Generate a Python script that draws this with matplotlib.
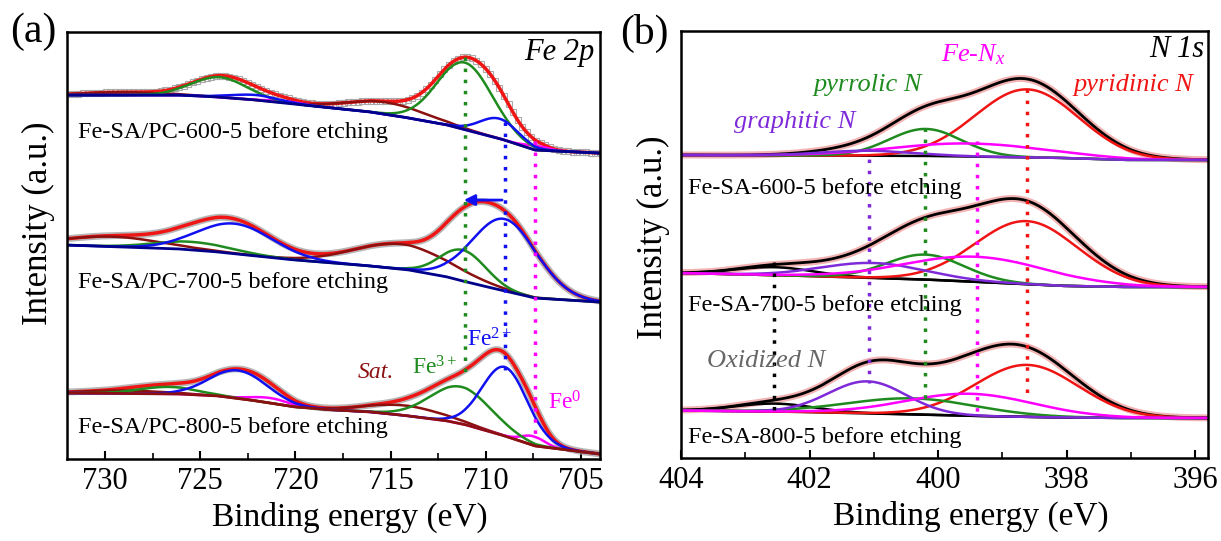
import numpy as np
import matplotlib
matplotlib.use('Agg')
import matplotlib.pyplot as plt
from matplotlib.ticker import MultipleLocator

plt.rcParams['font.family'] = ['Liberation Serif', 'DejaVu Serif']
plt.rcParams['mathtext.fontset'] = 'custom'
plt.rcParams['mathtext.rm'] = 'Liberation Serif'
plt.rcParams['mathtext.it'] = 'Liberation Serif:italic'

# ---- panel (a): Fe 2p ----
# levels are read as image rows (y axis is inverted, smaller = higher up)
fe_samples = ['Fe-SA/PC-600-5 before etching',
              'Fe-SA/PC-700-5 before etching',
              'Fe-SA/PC-800-5 before etching']
fe_label_rows = [132, 282, 428]
fe_bg_be = [704, 707.4, 709, 711, 712, 714, 716, 718, 720, 722, 724, 726, 732]
fe_bg_600 = [153, 150, 140, 130, 125, 118, 112, 108, 104, 100, 97, 95, 95]
fe_bg_700 = [302, 298, 291, 282, 277, 270, 266, 263, 260, 256, 252, 249, 245]
fe_bg_800 = [454, 446, 436, 425, 421, 416, 412, 410, 407, 401, 396, 394, 393]

# components Fe3+, Fe2+, Fe0, satellite
# row: 2p3/2 centre, height, sigma, 2p1/2 centre, height, sigma
fe_comp_600 = [[711.1, 67, 1.45, 724.0, 20, 1.45],
               [709.3, 20, 1.0, 722.1, 5, 1.2],
               [707.3, 4, 0.6, 720.5, 2, 0.8],
               [715.2, 12, 2.0, 729.0, 3, 2.0]]
fe_comp_700 = [[711.2, 31, 1.2, 725.4, 8, 2.0],
               [709.0, 72, 1.7, 723.2, 30, 2.0],
               [707.3, 0, 0.6, 720.5, 0, 1.0],
               [714.4, 25, 2.5, 729.6, 10, 2.5]]
fe_comp_800 = [[711.3, 37, 1.6, 726.7, 7, 1.5],
               [709.0, 69, 1.2, 723.0, 28, 1.5],
               [707.5, 9, 0.6, 721.3, 5, 1.0],
               [714.2, 10, 2.0, 729.0, 3, 2.0]]

fe_mark_be = [711.1, 709.0, 707.4]
fe_mark_top = [57, 122, 141]
fe_mark_bottom = [378, 370, 437]

# ---- panel (b): N 1s ----
n_samples = ['Fe-SA-600-5 before etching',
             'Fe-SA-700-5 before etching',
             'Fe-SA-800-5 before etching']
n_label_rows = [188, 305, 437]
n_bg_be = [395.8, 397, 398, 399, 400, 402, 404]
n_bg_600 = [160, 160, 158, 157, 156, 155.5, 155]
n_bg_700 = [287, 287, 286, 283, 280, 276, 273]
n_bg_800 = [418, 418, 417.5, 416.5, 415, 412, 410.5]

# pyridinic, pyrrolic, Fe-Nx, graphitic, oxidized: centre, height, sigma
n_comp_600 = [[398.62, 68, 0.8], [400.2, 27, 0.56], [399.5, 13, 1.2],
              [401.1, 5, 0.7], [402.55, 0, 0.6]]
n_comp_700 = [[398.62, 63, 0.8], [400.2, 25, 0.6], [399.4, 25, 1.1],
              [401.0, 15, 0.8], [402.55, 8, 0.6]]
n_comp_800 = [[398.62, 52, 0.8], [400.4, 16, 1.0], [399.5, 22, 1.0],
              [401.1, 32, 0.6], [402.55, 8, 0.6]]

n_mark_be = [402.55, 401.08, 400.2, 399.4, 398.62]
n_mark_top = [262, 148, 128, 141, 89]
n_mark_bottom = [416, 383, 398, 416, 395]

GREEN = '#1f8b1f'
BLUE = '#1010f0'
NAVY = '#00008b'
MAROON = '#8b1010'
MAGENTA = '#ff00ff'
PURPLE = '#7f2ad9'
RED = '#f01515'

fe_colors = [GREEN, BLUE, MAGENTA, MAROON]
n_colors = [RED, GREEN, MAGENTA, PURPLE, 'black']
dot = (0, (1, 2.2))


def peak(x, c, h, s):
    return h * np.exp(-(x - c) ** 2 / (2 * s ** 2))


fig = plt.figure(figsize=(12.21, 5.41), dpi=100)
ax1 = fig.add_axes([0.0549, 0.1516, 0.4365, 0.789])
ax2 = fig.add_axes([0.5577, 0.1534, 0.4317, 0.7893])

# panel a
x = np.linspace(704, 732, 700)
fe_bgs = [fe_bg_600, fe_bg_700, fe_bg_800]
fe_comps = [fe_comp_600, fe_comp_700, fe_comp_800]
for i in range(3):
    bg = np.interp(x, fe_bg_be, fe_bgs[i])
    curves = []
    for row in fe_comps[i]:
        curves.append(peak(x, row[0], row[1], row[2]) + peak(x, row[3], row[4], row[5]))
    env = bg - np.sum(curves, axis=0)
    if i == 0:
        ax1.plot(x, env, ls='none', marker='s', ms=4, mfc='none', mec='#aaaaaa',
                 mew=0.8, markevery=6)
    else:
        ax1.plot(x, env, color='#999999', lw=5, alpha=0.7)
    ax1.plot(x, env, color=RED, lw=2.5)
    for j in [3, 2, 0, 1]:
        if max(fe_comps[i][j][1], fe_comps[i][j][4]) == 0:
            continue
        ax1.plot(x, bg - curves[j], color=fe_colors[j], lw=1.8)
    ax1.plot(x, bg, color=MAROON if i == 2 else NAVY, lw=2)
    ax1.text(731.4, fe_label_rows[i], fe_samples[i], fontsize=17.5, ha='left', va='center')

for k in range(3):
    ax1.plot([fe_mark_be[k]] * 2, [fe_mark_top[k], fe_mark_bottom[k]],
             color=[GREEN, BLUE, MAGENTA][k], ls=dot, lw=2.5)
ax1.annotate('', xy=(711.3, 200), xytext=(709.0, 200),
             arrowprops=dict(arrowstyle='-|>', color=BLUE, lw=2, mutation_scale=16))

ax1.text(704.3, 52, 'Fe 2p', fontsize=22, style='italic', ha='right', va='center')
ax1.text(716.75, 372, 'Sat.', fontsize=17, style='italic', color=MAROON, ha='left', va='center')
ax1.text(713.9, 368, 'Fe$^{3+}$', fontsize=17, color=GREEN, ha='left', va='center')
ax1.text(711.0, 340, 'Fe$^{2+}$', fontsize=17, color=BLUE, ha='left', va='center')
ax1.text(706.75, 403, 'Fe$^{0}$', fontsize=17, color=MAGENTA, ha='left', va='center')

ax1.set_xlim(732, 704)
ax1.set_ylim(459, 32)
ax1.xaxis.set_major_locator(MultipleLocator(5))
ax1.xaxis.set_minor_locator(MultipleLocator(2.5))

# panel b
xb = np.linspace(395.8, 404, 700)
n_bgs = [n_bg_600, n_bg_700, n_bg_800]
n_comps = [n_comp_600, n_comp_700, n_comp_800]
for i in range(3):
    bg = np.interp(xb, n_bg_be, n_bgs[i])
    curves = [peak(xb, *row) for row in n_comps[i]]
    env = bg - np.sum(curves, axis=0)
    ax2.plot(xb, env, color='#f0a0a0', lw=5, alpha=0.8)
    ax2.plot(xb, env, color='black', lw=2)
    ax2.plot(xb, bg, color='black', lw=1.8)
    order = [4, 0, 1, 2, 3] if i == 0 else [4, 0, 1, 3, 2]
    for j in order:
        if n_comps[i][j][1] == 0:
            continue
        ax2.plot(xb, bg - curves[j], color=n_colors[j], lw=1.8)
    ax2.text(403.89, n_label_rows[i], n_samples[i], fontsize=17.5, ha='left', va='center')

mark_colors = ['black', PURPLE, GREEN, MAGENTA, RED]
for k in range(5):
    ax2.plot([n_mark_be[k]] * 2, [n_mark_top[k], n_mark_bottom[k]],
             color=mark_colors[k], ls=dot, lw=2.5)

ax2.text(395.85, 50, 'N 1s', fontsize=22, style='italic', ha='right', va='center')
ax2.text(399.96, 55, 'Fe-N$_x$', fontsize=19, style='italic', color=MAGENTA, ha='left', va='center')
ax2.text(401.93, 85, 'pyrrolic N', fontsize=19, style='italic', color=GREEN, ha='left', va='center')
ax2.text(397.89, 85, 'pyridinic N', fontsize=19, style='italic', color=RED, ha='left', va='center')
ax2.text(403.18, 122, 'graphitic N', fontsize=19, style='italic', color=PURPLE, ha='left', va='center')
ax2.text(403.6, 361, 'Oxidized N', fontsize=19, style='italic', color='#666666', ha='left', va='center')

ax2.set_xlim(404, 395.8)
ax2.set_ylim(458, 31)
ax2.xaxis.set_major_locator(MultipleLocator(2))
ax2.xaxis.set_minor_locator(MultipleLocator(1))

for ax in [ax1, ax2]:
    for sp in ax.spines.values():
        sp.set_linewidth(1.8)
    ax.set_yticks([])
    ax.tick_params(axis='x', which='major', direction='in', length=6, width=1.5,
                   labelsize=22, pad=6, top=False)
    ax.tick_params(axis='x', which='minor', direction='in', length=4, width=1.2, top=False)
    ax.set_xlabel('Binding energy (eV)', fontsize=24)
    ax.set_ylabel('Intensity (a.u.)', fontsize=25)

ax1.xaxis.set_label_coords(0.53, -0.1)
ax2.xaxis.set_label_coords(0.55, -0.1)
ax1.yaxis.set_label_coords(-0.022, 0.553)
ax2.yaxis.set_label_coords(-0.021, 0.518)

fig.text(0.008, 0.941, '(a)', fontsize=30, va='center')
fig.text(0.508, 0.939, '(b)', fontsize=30, va='center')

fig.savefig('out.png', dpi=100)
